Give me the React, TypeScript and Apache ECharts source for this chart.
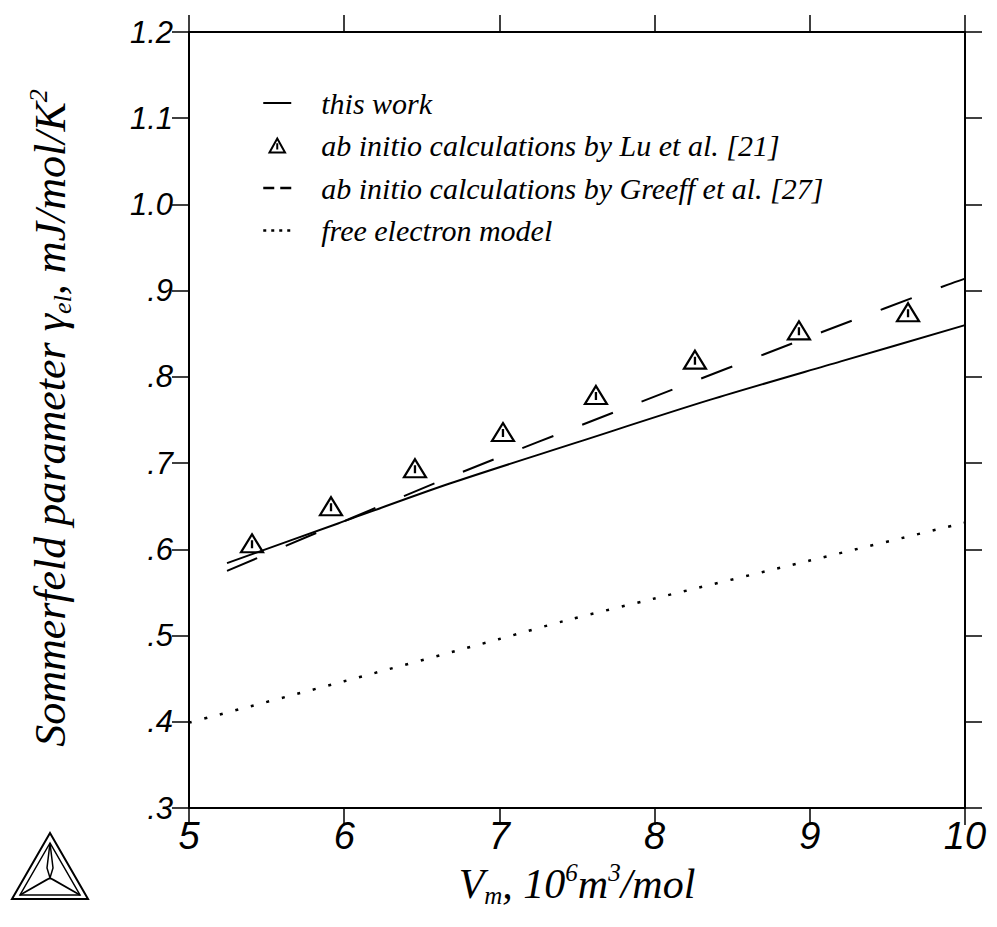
import React, { useEffect, useRef } from 'react';
import * as echarts from 'echarts';

const seriesNames = [
  'this work',
  'ab initio calculations by Lu et al. [21]',
  'ab initio calculations by Greeff et al. [27]',
  'free electron model',
];
const thisWorkX = [5.245, 5.96, 6.675, 7.5, 8.35, 9.2, 10.0];
const thisWorkY = [0.584, 0.63, 0.676, 0.724, 0.773, 0.818, 0.86];
const luX = [5.406, 5.915, 6.456, 7.023, 7.622, 8.26, 8.93, 9.633];
const luY = [0.607, 0.65, 0.694, 0.736, 0.779, 0.82, 0.854, 0.875];
const greeffX = [5.245, 6.656, 7.854, 9.079, 9.89, 10.0];
const greeffY = [0.575, 0.682, 0.767, 0.852, 0.907, 0.914];
const freeX = [5, 6, 7, 7.42, 8, 9, 10];
const freeY = [0.399, 0.447, 0.496, 0.517, 0.543, 0.587, 0.631];
const yTickLabels = ['.3', '.4', '.5', '.6', '.7', '.8', '.9', '1.0', '1.1', '1.2'];
const xTickLabels = ['5', '6', '7', '8', '9', '10'];

const zip = (xs: number[], ys: number[]) => xs.map((x, i) => [x, ys[i]]);

const TRI = 'path://M10,0 L20,18 L0,18 Z M10,6 L10,14';

export default function App() {
  const ref = useRef<HTMLDivElement>(null);
  useEffect(() => {
    if (!ref.current) return;
    const chart = echarts.init(ref.current, null, { renderer: 'svg' });
    const serif = 'Liberation Serif';
    const sans = 'Liberation Sans';
    const axisCommon = {
      axisLine: { show: true, onZero: false, lineStyle: { color: '#000', width: 2 } },
      axisTick: { show: true, inside: false, length: 17, lineStyle: { color: '#000', width: 1.5 } },
      splitLine: { show: false },
    };
    const ttl = (size: number) => ({
      a: { fontFamily: serif, fontStyle: 'italic', fontSize: size, lineHeight: size + 6, color: '#000' },
      s: { fontFamily: serif, fontStyle: 'italic', fontSize: Math.round(size * 0.6), lineHeight: Math.round(size * 0.6), verticalAlign: 'bottom', color: '#000' },
      p: { fontFamily: serif, fontStyle: 'italic', fontSize: Math.round(size * 0.6), lineHeight: Math.round(size * 0.6), verticalAlign: 'top', color: '#000' },
    });
    const hideSym = { color: 'transparent', borderColor: 'transparent', borderWidth: 0 };
    const option: any = {
      animation: false,
      backgroundColor: '#fff',
      grid: { left: 189, right: 32, top: 32, bottom: 119, containLabel: false },
      xAxis: [
        {
          type: 'value', min: 5, max: 10, interval: 1, position: 'bottom',
          ...axisCommon,
          axisLabel: {
            margin: 9, color: '#000', fontFamily: sans, fontStyle: 'italic', fontSize: 38,
            formatter: (v: number) => xTickLabels[Math.round(v - 5)] ?? '',
          },
        },
        {
          type: 'value', min: 5, max: 10, interval: 1, position: 'top',
          ...axisCommon,
          axisLabel: { show: false },
        },
      ],
      yAxis: [
        {
          type: 'value', min: 0.3, max: 1.2, interval: 0.1, position: 'left',
          ...axisCommon,
          axisLabel: {
            margin: 16, color: '#000', fontFamily: sans, fontStyle: 'italic', fontSize: 31,
            formatter: (v: number) => yTickLabels[Math.round((v - 0.3) * 10)] ?? '',
          },
        },
        {
          type: 'value', min: 0.3, max: 1.2, interval: 0.1, position: 'right',
          ...axisCommon,
          axisLabel: { show: false },
        },
      ],
      legend: {
        left: 257, top: 83, orient: 'vertical', itemWidth: 28, itemHeight: 14, itemGap: 12.5,
        symbolKeepAspect: true,
        textStyle: { fontFamily: serif, fontStyle: 'italic', fontSize: 30, lineHeight: 30, color: '#000', padding: [0, 0, 0, 25] },
        data: [
          { name: seriesNames[0], itemStyle: hideSym },
          { name: seriesNames[1] },
          { name: seriesNames[2], itemStyle: hideSym, lineStyle: { type: [11, 6], width: 2.5 } },
          { name: seriesNames[3], itemStyle: hideSym, lineStyle: { type: [3, 5], width: 2.5 } },
        ],
        selectedMode: false,
      },
      graphic: [
        {
          type: 'text', x: 50, y: 418, rotation: Math.PI / 2,
          style: {
            text: '{a|Sommerfeld parameter γ}{s|el}{a|, mJ/mol/K}{p|2}',
            rich: ttl(44), align: 'center', verticalAlign: 'middle',
            fontFamily: serif, fontStyle: 'italic', fontSize: 44, fill: '#000',
          },
        },
        {
          type: 'text', x: 577, y: 884,
          style: {
            text: '{a|V}{s|m}{a|, 10}{p|6}{a|m}{p|3}{a|/mol}',
            rich: ttl(42), align: 'center', verticalAlign: 'middle',
            fontFamily: serif, fontStyle: 'italic', fontSize: 42, fill: '#000',
          },
        },
        {
          type: 'group',
          children: [
            { type: 'polygon', shape: { points: [[50, 833], [12, 899], [88, 899]] }, style: { fill: 'none', stroke: '#000', lineWidth: 2 } },
            { type: 'polygon', shape: { points: [[50, 843], [20, 895], [80, 895]] }, style: { fill: 'none', stroke: '#000', lineWidth: 1.5 } },
            { type: 'polygon', shape: { points: [[50, 843], [47, 868], [50, 878], [53, 868]] }, style: { fill: 'none', stroke: '#000', lineWidth: 1.5 } },
            { type: 'polygon', shape: { points: [[50, 878], [20, 895], [46, 880]] }, style: { fill: 'none', stroke: '#000', lineWidth: 1.5 } },
            { type: 'polygon', shape: { points: [[50, 878], [80, 895], [54, 880]] }, style: { fill: 'none', stroke: '#000', lineWidth: 1.5 } },
          ],
        },
      ],
      series: [
        {
          name: seriesNames[0], type: 'line', data: zip(thisWorkX, thisWorkY), smooth: 0.3,
          symbol: 'none', lineStyle: { color: '#000', width: 2 }, itemStyle: { color: '#000' },
        },
        {
          name: seriesNames[1], type: 'scatter', data: zip(luX, luY),
          symbol: TRI, symbolSize: [22, 20], symbolKeepAspect: true,
          itemStyle: { color: 'transparent', borderColor: '#000', borderWidth: 2.2, opacity: 1 },
          z: 5,
        },
        {
          name: seriesNames[2], type: 'line', data: zip(greeffX, greeffY), smooth: 0.3,
          symbol: 'none', lineStyle: { color: '#000', width: 2, type: [33, 31] }, itemStyle: { color: '#000' },
        },
        {
          name: seriesNames[3], type: 'line', data: zip(freeX, freeY), smooth: 0.3,
          symbol: 'none', lineStyle: { color: '#000', width: 2.5, type: [3, 13] }, itemStyle: { color: '#000' },
        },
      ],
    };
    chart.setOption(option);
    return () => chart.dispose();
  }, []);
  return <div ref={ref} style={{ position: 'fixed', left: 0, top: 0, width: 997, height: 927, background: '#fff' }} />;
}
